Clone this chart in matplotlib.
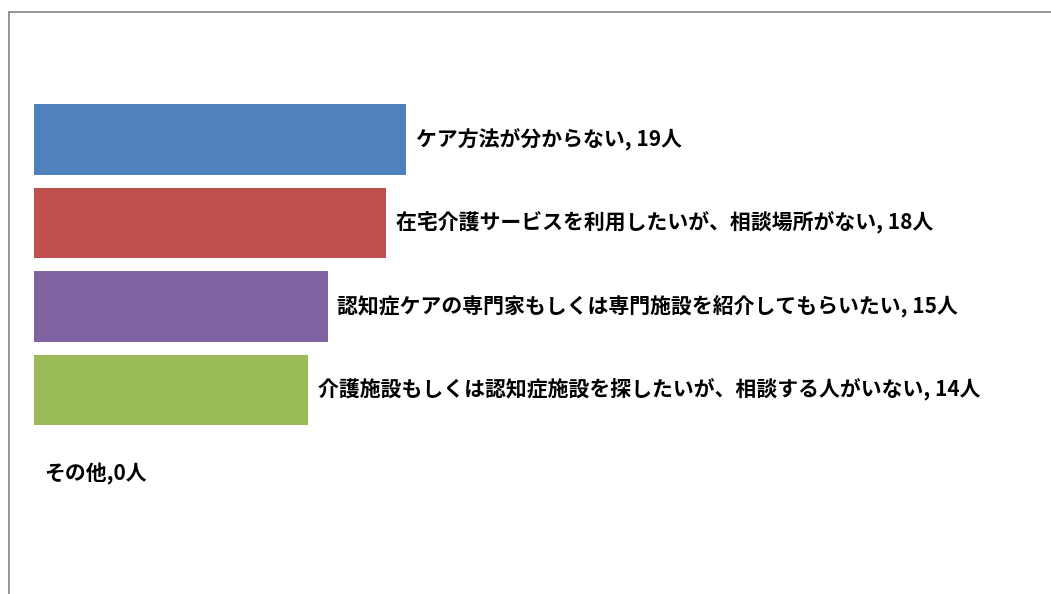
import matplotlib.pyplot as plt
import numpy as np
from matplotlib.lines import Line2D

plt.rcParams['font.family'] = ['Noto Sans CJK JP', 'DejaVu Sans']

# reasons, top to bottom
categories = [
    'ケア方法が分からない',
    '在宅介護サービスを利用したいが、相談場所がない',
    '認知症ケアの専門家もしくは専門施設を紹介してもらいたい',
    '介護施設もしくは認知症施設を探したいが、相談する人がいない',
    'その他',
]
counts = [19, 18, 15, 14, 0]
colors = ['#4F81BD', '#C0504D', '#8064A2', '#9BBB59', '#F79646']

fig = plt.figure(figsize=(10.51, 5.94), dpi=100)
ax = fig.add_axes([0, 0, 1, 1])

ind = np.arange(len(categories))
ax.barh(ind, counts, height=0.84, color=colors)

for i, (cat, value) in enumerate(zip(categories, counts)):
    sep = ',' if value == 0 else ', '
    ax.annotate(f'{cat}{sep}{value}人', xy=(value, i), xytext=(7, 0),
                textcoords='offset points', ha='left', va='center',
                fontsize=15, fontweight='bold', color='black')

ax.set_xlim(-34 / 19.58, (1051 - 34) / 19.58)
ax.set_ylim((594 - 139.5) / 83.5, -139.5 / 83.5)
ax.axis('off')

# chart frame (only top and left visible)
W, H = 1051, 594
fig.add_artist(Line2D([8.5 / W, 8.5 / W], [0, 1 - 11.5 / H],
                      transform=fig.transFigure, color='#8c8c8c', lw=1.3))
fig.add_artist(Line2D([8.5 / W, 1], [1 - 11.5 / H, 1 - 11.5 / H],
                      transform=fig.transFigure, color='#8c8c8c', lw=1.3))

fig.savefig('out.png', dpi=100)
